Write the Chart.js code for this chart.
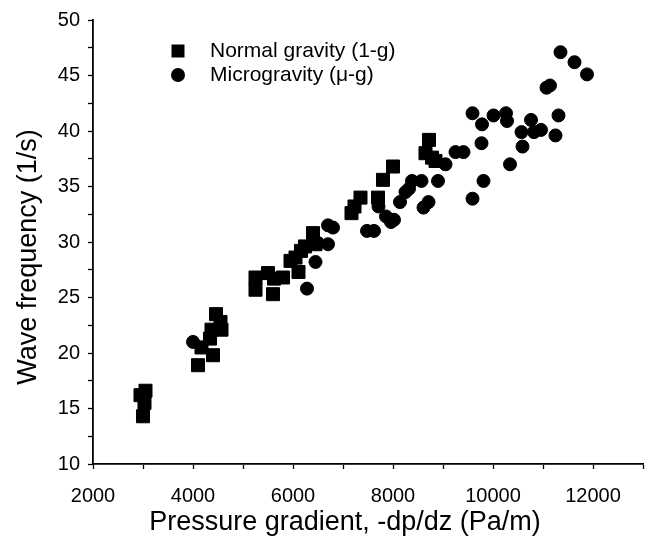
<!DOCTYPE html>
<html>
<head>
<meta charset="utf-8">
<script src="https://cdn.jsdelivr.net/npm/chart.js@4.4.0/dist/chart.umd.min.js"></script>
<style>
html,body{margin:0;padding:0;background:#fff;}
#wrap{width:646px;height:543px;}
</style>
</head>
<body>
<div id="wrap"><canvas id="c" width="646" height="543"></canvas></div>
<script>
// ---- data ----
const normalLabel = 'Normal gravity (1-g)';
const normalX = [2950, 3050, 3030, 3000, 4100, 4170, 4340, 4370, 4400, 4460, 4550, 4570,
  5250, 5250, 5500, 5600, 5620, 5800, 5950, 6050, 6110, 6160, 6240, 6400, 6450,
  7170, 7230, 7350, 7700, 7800, 8000, 8650, 8720, 8780, 8850];
const normalY = [16.2, 16.6, 15.5, 14.3, 18.9, 20.5, 21.3, 22.1, 19.8, 23.5, 22.8, 22.1,
  26.8, 25.7, 27.2, 25.3, 26.7, 26.8, 28.3, 28.6, 27.3, 29.2, 29.6, 30.8, 29.8,
  32.6, 33.2, 34.0, 34.0, 35.6, 36.8, 38.0, 39.2, 37.6, 37.3];

const microLabel = 'Microgravity (\u03bc-g)';
const microX = [4000, 6280, 6450, 6500, 6700, 6700, 6800,
  7480, 7620, 7710, 7860, 7960, 8020,
  8140, 8250, 8320, 8380, 8570, 8610, 8710, 8900, 9050, 9250, 9410,
  9590, 9810, 9770, 9590, 9780, 10010, 10260, 10280, 10340, 10590, 10570,
  10760, 10820, 10960, 11250, 11310, 11070, 11140, 11350, 11630, 11880];
const microY = [21.0, 25.8, 28.2, 29.9, 29.8, 31.5, 31.3,
  31.0, 31.0, 33.2, 32.3, 31.8, 32.0,
  33.6, 34.5, 34.8, 35.5, 35.5, 33.1, 33.6, 35.5, 37.0, 38.1, 38.1,
  33.9, 35.5, 38.9, 41.6, 40.6, 41.4, 41.6, 40.9, 37.0, 38.6, 39.9,
  41.0, 39.9, 40.1, 39.6, 41.4, 43.9, 44.1, 47.1, 46.2, 45.1];

const xTickLabels = [2000, 4000, 6000, 8000, 10000, 12000];
const yTickLabels = [10, 15, 20, 25, 30, 35, 40, 45, 50];
const xTitle = 'Pressure gradient, -dp/dz (Pa/m)';
const yTitle = 'Wave frequency (1/s)';

// ---- chart ----
const FONT = '"Liberation Sans", Arial, Helvetica, sans-serif';
const toPts = (xs, ys) => xs.map((x, i) => ({x: x, y: ys[i]}));

const legendAndTitles = {
  id: 'legendAndTitles',
  afterDraw(chart) {
    const ctx = chart.ctx;
    ctx.save();
    ctx.fillStyle = '#000';
    // legend inside plot
    const rows = [51, 75];
    chart.data.datasets.forEach((ds, i) => {
      const y = rows[i];
      const mx = 178;
      ctx.beginPath();
      if (ds.pointStyle === 'rect') {
        ctx.rect(mx - 6.5, y - 6.5, 13, 13);
      } else {
        ctx.arc(mx, y, 7, 0, Math.PI * 2);
      }
      ctx.fill();
      ctx.font = '21px ' + FONT;
      ctx.textAlign = 'left';
      ctx.textBaseline = 'middle';
      ctx.fillText(ds.label, 210, y);
    });
    // axis titles
    ctx.font = '27px ' + FONT;
    ctx.textAlign = 'center';
    ctx.textBaseline = 'middle';
    ctx.fillText(xTitle, 345, 523);
    ctx.translate(29, 257);
    ctx.rotate(-Math.PI / 2);
    ctx.fillText(yTitle, 0, 0);
    ctx.restore();
  }
};

new Chart(document.getElementById('c'), {
  type: 'scatter',
  data: {
    datasets: [
      {
        label: normalLabel,
        data: toPts(normalX, normalY),
        pointStyle: 'rect',
        pointRadius: 9.2,
        backgroundColor: '#000',
        borderColor: '#000',
        borderWidth: 1,
        order: 0
      },
      {
        label: microLabel,
        data: toPts(microX, microY),
        pointStyle: 'circle',
        pointRadius: 6.5,
        backgroundColor: '#000',
        borderColor: '#000',
        borderWidth: 1,
        order: 1
      }
    ]
  },
  options: {
    responsive: false,
    animation: false,
    layout: {autoPadding: false, padding: {left: 0, right: 3, top: 18, bottom: 0}},
    plugins: {legend: {display: false}, tooltip: {enabled: false}},
    scales: {
      x: {
        type: 'linear',
        min: 2000,
        max: 13000,
        afterFit(s) { s.height = 79; s.paddingLeft = 0; s.paddingRight = 0; },
        ticks: {
          stepSize: 1000,
          autoSkip: false,
          maxRotation: 0,
          color: '#000',
          padding: 15,
          font: {family: FONT, size: 20},
          callback: v => xTickLabels.includes(v) ? String(v) : ''
        },
        grid: {drawOnChartArea: false, drawTicks: true, tickLength: 5, color: '#000', tickWidth: 1.3},
        border: {display: true, color: '#000', width: 1.8},
        title: {display: false}
      },
      y: {
        type: 'linear',
        min: 10,
        max: 50,
        afterFit(s) { s.width = 93; },
        ticks: {
          stepSize: 2.5,
          autoSkip: false,
          color: '#000',
          padding: 8,
          font: {family: FONT, size: 20},
          callback: v => yTickLabels.includes(v) ? String(v) : ''
        },
        grid: {drawOnChartArea: false, drawTicks: true, tickLength: 5, color: '#000', tickWidth: 1.3},
        border: {display: true, color: '#000', width: 1.8},
        title: {display: false}
      }
    }
  },
  plugins: [legendAndTitles]
});
</script>
</body>
</html>
